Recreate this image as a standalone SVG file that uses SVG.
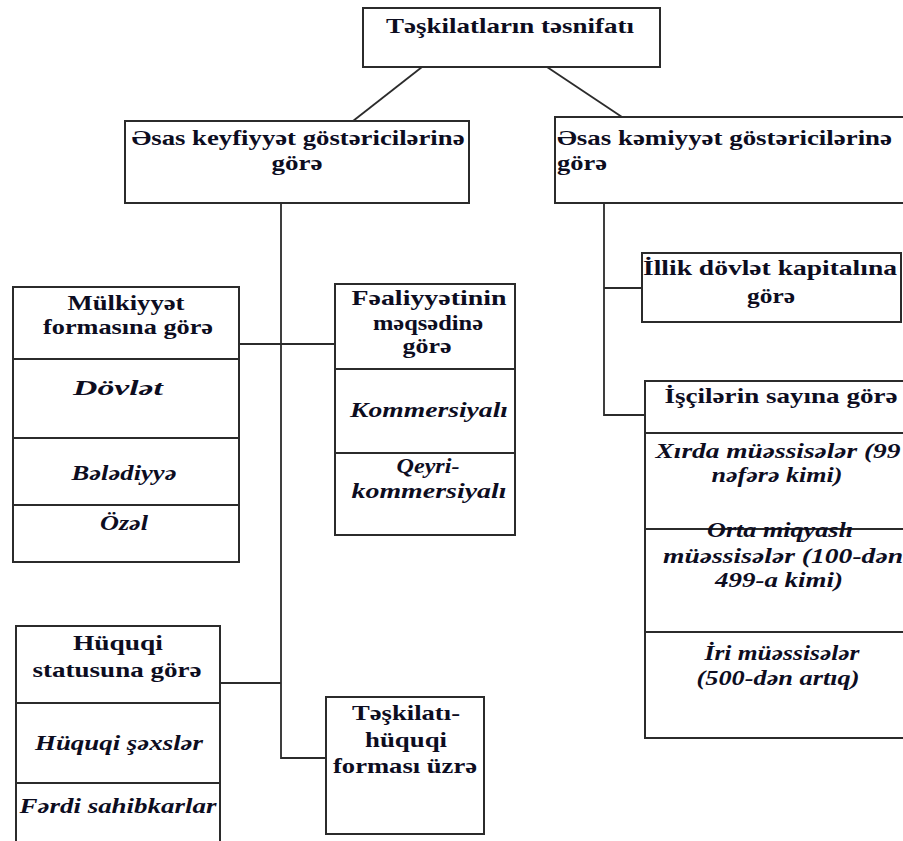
<svg xmlns="http://www.w3.org/2000/svg" width="903" height="841" viewBox="0 0 903 841">
<style>
.box{fill:#fff;stroke:#2b2b2b;stroke-width:2}
.div{stroke:#2b2b2b;stroke-width:2}
.ln{fill:none;stroke:#2b2b2b;stroke-width:1.8}
text{font-family:"Liberation Serif","DejaVu Serif",serif;font-weight:bold;font-size:21px;fill:#0d0d1f}
.c{text-anchor:middle}
.i{font-style:italic}
</style>
<rect width="903" height="841" fill="#fff"/>
<g id="connectors">
<polyline class="ln" points="422,67 353,121"/>
<polyline class="ln" points="547,67 622,117"/>
<polyline class="ln" points="281,203 281,758 326,758"/>
<polyline class="ln" points="239,344 335,344"/>
<polyline class="ln" points="220,683 281,683"/>
<polyline class="ln" points="604,203 604,415 645,415"/>
<polyline class="ln" points="604,288 642,288"/>
</g>
<g id="root">
<rect class="box" x="363" y="8" width="297" height="59"/>
<text class="c" x="510" y="33" textLength="248" lengthAdjust="spacingAndGlyphs">Təşkilatların təsnifatı</text>
</g>
<g id="keyfiyyet">
<rect class="box" x="125" y="121" width="344" height="82"/>
<text class="c" x="298" y="145" textLength="333" lengthAdjust="spacingAndGlyphs">Əsas keyfiyyət göstəricilərinə</text>
<text class="c" x="297" y="170" textLength="51" lengthAdjust="spacingAndGlyphs">görə</text>
</g>
<g id="kemiyyet">
<rect class="box" x="555" y="117" width="360" height="86"/>
<text x="557" y="145" textLength="335" lengthAdjust="spacingAndGlyphs">Əsas kəmiyyət göstəricilərinə</text>
<text x="557" y="170" textLength="50" lengthAdjust="spacingAndGlyphs">görə</text>
</g>
<g id="mulkiyyet">
<rect class="box" x="13" y="287" width="226" height="275"/>
<line class="div" x1="13" y1="359" x2="239" y2="359"/>
<line class="div" x1="13" y1="438" x2="239" y2="438"/>
<line class="div" x1="13" y1="505" x2="239" y2="505"/>
<text class="c" x="126" y="310" textLength="117" lengthAdjust="spacingAndGlyphs">Mülkiyyət</text>
<text class="c" x="128" y="334" textLength="170" lengthAdjust="spacingAndGlyphs">formasına görə</text>
<text class="c i" x="118" y="395" textLength="90" lengthAdjust="spacingAndGlyphs">Dövlət</text>
<text class="c i" x="124" y="480" textLength="105" lengthAdjust="spacingAndGlyphs">Bələdiyyə</text>
<text class="c i" x="124" y="530" textLength="48" lengthAdjust="spacingAndGlyphs">Özəl</text>
</g>
<g id="fealiyyet">
<rect class="box" x="335" y="284" width="180" height="251"/>
<line class="div" x1="335" y1="369" x2="515" y2="369"/>
<line class="div" x1="335" y1="453" x2="515" y2="453"/>
<text class="c" x="429" y="305" textLength="155" lengthAdjust="spacingAndGlyphs">Fəaliyyətinin</text>
<text class="c" x="428" y="330" textLength="110" lengthAdjust="spacingAndGlyphs">məqsədinə</text>
<text class="c" x="427" y="353" textLength="49" lengthAdjust="spacingAndGlyphs">görə</text>
<text class="c i" x="429" y="417" textLength="158" lengthAdjust="spacingAndGlyphs">Kommersiyalı</text>
<text class="c i" x="428" y="473" textLength="63" lengthAdjust="spacingAndGlyphs">Qeyri-</text>
<text class="c i" x="429" y="498" textLength="155" lengthAdjust="spacingAndGlyphs">kommersiyalı</text>
</g>
<g id="illik">
<rect class="box" x="642" y="253" width="259" height="69"/>
<text class="c" x="770" y="275" textLength="254" lengthAdjust="spacingAndGlyphs">İllik dövlət kapitalına</text>
<text class="c" x="771" y="303" textLength="48" lengthAdjust="spacingAndGlyphs">görə</text>
</g>
<g id="isciler">
<rect class="box" x="645" y="381" width="270" height="357"/>
<line class="div" x1="645" y1="433" x2="915" y2="433"/>
<line class="div" x1="645" y1="529" x2="915" y2="529"/>
<line class="div" x1="645" y1="632" x2="915" y2="632"/>
<text class="c" x="781" y="403" textLength="233" lengthAdjust="spacingAndGlyphs">İşçilərin sayına görə</text>
<text class="c i" x="778" y="458" textLength="245" lengthAdjust="spacingAndGlyphs">Xırda müəssisələr (99</text>
<text class="c i" x="777" y="482" textLength="131" lengthAdjust="spacingAndGlyphs">nəfərə kimi)</text>
<text class="c i" x="780" y="537" textLength="146" lengthAdjust="spacingAndGlyphs">Orta miqyaslı</text>
<text class="c i" x="783" y="563" textLength="240" lengthAdjust="spacingAndGlyphs">müəssisələr (100-dən</text>
<text class="c i" x="779" y="587" textLength="128" lengthAdjust="spacingAndGlyphs">499-a kimi)</text>
<text class="c i" x="782" y="660" textLength="155" lengthAdjust="spacingAndGlyphs">İri müəssisələr</text>
<text class="c i" x="778" y="685" textLength="163" lengthAdjust="spacingAndGlyphs">(500-dən artıq)</text>
</g>
<g id="huquqi">
<rect class="box" x="16" y="626" width="204" height="230"/>
<line class="div" x1="16" y1="703" x2="220" y2="703"/>
<line class="div" x1="16" y1="783" x2="220" y2="783"/>
<text class="c" x="118" y="650" textLength="90" lengthAdjust="spacingAndGlyphs">Hüquqi</text>
<text class="c" x="117" y="677" textLength="169" lengthAdjust="spacingAndGlyphs">statusuna görə</text>
<text class="c i" x="119" y="750" textLength="168" lengthAdjust="spacingAndGlyphs">Hüquqi şəxslər</text>
<text class="c i" x="118" y="813" textLength="197" lengthAdjust="spacingAndGlyphs">Fərdi sahibkarlar</text>
</g>
<g id="teskilati">
<rect class="box" x="326" y="697" width="158" height="137"/>
<text class="c" x="406" y="720" textLength="108" lengthAdjust="spacingAndGlyphs">Təşkilatı-</text>
<text class="c" x="406" y="747" textLength="82" lengthAdjust="spacingAndGlyphs">hüquqi</text>
<text class="c" x="405" y="773" textLength="144" lengthAdjust="spacingAndGlyphs">forması üzrə</text>
</g>
</svg>
